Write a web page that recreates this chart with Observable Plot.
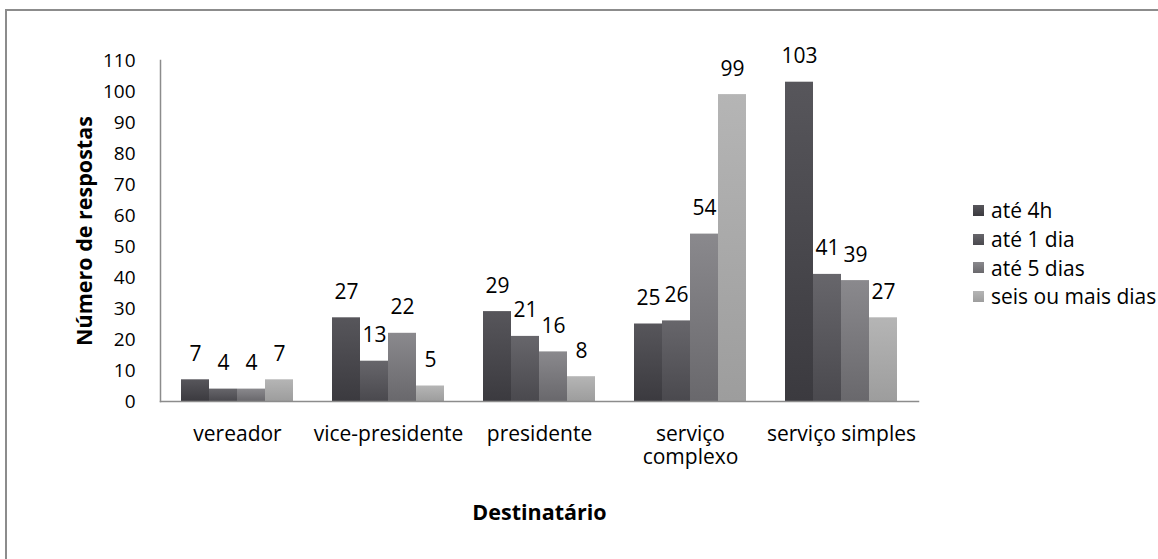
<!DOCTYPE html>
<html>
<head>
<meta charset="utf-8">
<script src="https://cdn.jsdelivr.net/npm/d3@7"></script>
<script src="https://cdn.jsdelivr.net/npm/@observablehq/plot@0.6"></script>
<style>
  html, body { margin: 0; padding: 0; background: #fff; overflow: hidden; }
  #wrap { position: relative; width: 1158px; height: 559px; overflow: hidden; font-family: "Open Sans", sans-serif; }
  #frame { position: absolute; left: 5px; top: 9px; width: 1170px; height: 570px; border: 2px solid #8c8c8c; pointer-events: none; }
  #legend { position: absolute; left: 973px; top: 196px; font-size: 21px; color: #000; }
  .row { display: flex; align-items: center; height: 28.7px; }
  .sw { width: 11px; height: 11px; margin-right: 7px; }
</style>
</head>
<body>
<div id="wrap">
  <div id="chart"></div>
  <div id="frame"></div>
  <div id="legend"></div>
</div>
<script>
const categories = ["vereador", "vice-presidente", "presidente", "serviço complexo", "serviço simples"];
const series = ["até 4h", "até 1 dia", "até 5 dias", "seis ou mais dias"];
const ate4h = [7, 27, 29, 25, 103];
const ate1dia = [4, 13, 21, 26, 41];
const ate5dias = [4, 22, 16, 54, 39];
const seisOuMais = [7, 5, 8, 99, 27];
const yTicks = [0, 10, 20, 30, 40, 50, 60, 70, 80, 90, 100, 110];

const seriesValues = [ate4h, ate1dia, ate5dias, seisOuMais];
const gradTop = ["#57565b", "#67666b", "#8a898d", "#b5b5b5"];
const gradBottom = ["#3b3a3f", "#4a494e", "#69686c", "#9d9d9d"];

const data = [];
categories.forEach((c, i) => {
  series.forEach((s, j) => data.push({cat: c, serie: s, value: seriesValues[j][i]}));
});

const FONT = "'Open Sans', sans-serif";
const M = {marginLeft: 160, marginRight: 241, marginTop: 60, marginBottom: 158};
const fxOpts = {domain: categories, paddingInner: 0.26, paddingOuter: 0.13};

function build(off) {
  return Plot.plot({
    width: 1158,
    height: 559,
    ...M,
    style: {fontFamily: FONT, fontSize: "19px", color: "#000", background: "transparent"},
    fx: fxOpts,
    x: {domain: series, padding: 0, axis: null},
    y: {domain: [0, 110], axis: null},
    color: {domain: series, range: series.map((s, i) => `url(#g${i})`)},
    marks: [
      Plot.barY(data, {fx: "cat", x: "serie", y: "value", fill: "serie"}),
      Plot.text(data, {fx: "cat", x: "serie", y: "value", text: d => String(d.value), lineAnchor: "bottom", dy: -19, fill: "#000", fontSize: 21}),
      Plot.axisFx({
        anchor: "bottom",
        tickSize: 0, tickPadding: 24, fontSize: 21, lineHeight: 1.06,
        tickFormat: d => d === "serviço complexo" ? "serviço\ncomplexo" : d,
        label: "Destinatário", labelAnchor: "center", labelOffset: 118, labelArrow: "none"
      }),
      Plot.axisY({ticks: yTicks, tickSize: 0, tickPadding: 25, fontSize: 19, label: null, dx: -off}),
      Plot.text(["Número de respostas"], {frameAnchor: "left", textAnchor: "middle", rotate: -90, dx: -75 - off, fontWeight: "bold", fontSize: 21.5, facet: "super"}),
      Plot.frame({anchor: "bottom", stroke: "#8c8c8c", strokeWidth: 1.5, insetLeft: -off, insetRight: -off, facet: "super"}),
      Plot.frame({anchor: "left", stroke: "#8c8c8c", strokeWidth: 1.5, insetLeft: -off, facet: "super"})
    ]
  });
}

// first pass: find where the first facet starts relative to the frame
const probe = build(0);
const fxScale = probe.scale("fx");
const offset = fxScale.apply(categories[0]) - M.marginLeft;
const chart = build(offset);

// gradient defs
const svg = d3.select(chart);
const defs = svg.insert("defs", ":first-child");
gradTop.forEach((t, i) => {
  const g = defs.append("linearGradient").attr("id", `g${i}`).attr("x1", 0).attr("y1", 0).attr("x2", 0).attr("y2", 1);
  g.append("stop").attr("offset", "0%").attr("stop-color", t);
  g.append("stop").attr("offset", "100%").attr("stop-color", gradBottom[i]);
});
svg.selectAll('[aria-label="fx-axis label"]').attr("font-weight", "bold").attr("font-size", 21.5);

document.getElementById("chart").appendChild(chart);

const legend = d3.select("#legend");
series.forEach((s, i) => {
  const r = legend.append("div").attr("class", "row");
  r.append("div").attr("class", "sw").style("background", `linear-gradient(${gradTop[i]}, ${gradBottom[i]})`);
  r.append("span").text(s);
});
</script>
</body>
</html>
